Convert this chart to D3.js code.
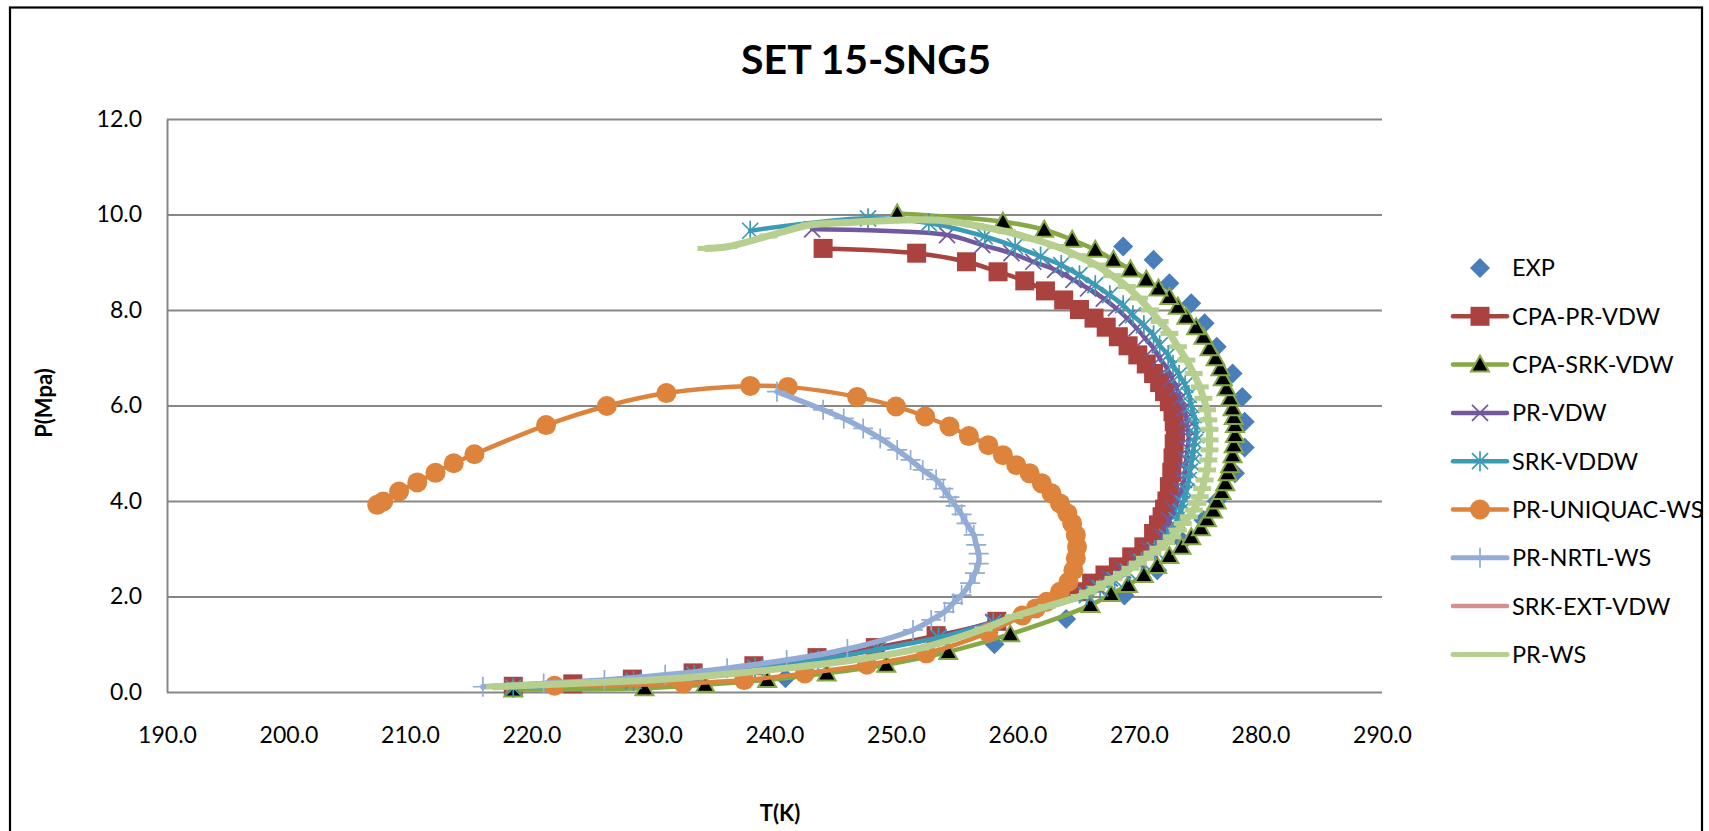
<!DOCTYPE html>
<html>
<head>
<meta charset="utf-8">
<script src="https://cdn.jsdelivr.net/npm/d3@7"></script>
<style>
  body { margin: 0; background: #fff; }
  svg text { font-family: Lato, "Open Sans", sans-serif; fill: #000; }
</style>
</head>
<body>
<div id="chart"></div>
<script>
// values, [T (K), P (MPa)]
var expData = [[240.9,0.29],[258.1,1.0],[264.0,1.53],[268.8,2.02],[271.5,2.55],[273.6,3.15],[275.3,3.6],[276.4,4.0],[277.9,4.58],[278.7,5.12],[278.7,5.66],[278.5,6.18],[277.7,6.67],[276.4,7.23],[275.4,7.72],[274.3,8.14],[272.5,8.56],[271.2,9.05],[268.7,9.33]];

var cpaPrVdw = [[218.5,0.12],[223.4,0.17],[228.3,0.27],[233.3,0.40],[238.3,0.55],[243.5,0.72],[248.3,0.93],[253.3,1.18],[258.3,1.48],[265.0,2.10],[266.1,2.28],[267.2,2.45],[268.3,2.62],[269.4,2.83],[270.4,3.04],[271.2,3.32],[271.6,3.5],[271.9,3.67],[272.1,3.83],[272.3,4.0],[272.5,4.3],[272.7,4.6],[272.8,4.9],[272.9,5.2],[273.0,5.45],[272.9,5.66],[272.8,5.87],[272.5,6.08],[272.1,6.29],[271.7,6.48],[271.2,6.67],[270.6,6.87],[269.9,7.06],[269.1,7.25],[268.3,7.44],[267.3,7.64],[266.3,7.83],[265.1,8.01],[263.8,8.21],[262.3,8.40],[260.6,8.61],[258.4,8.80],[255.8,9.01],[251.7,9.19],[244.0,9.29]];

var cpaSrkVdw = [[218.5,0.05],[229.3,0.08],[234.3,0.15],[239.4,0.25],[244.3,0.39],[249.2,0.57],[254.3,0.84],[259.4,1.21],[266.0,1.82],[267.7,2.05],[269.1,2.24],[270.4,2.45],[271.5,2.64],[272.5,2.85],[273.5,3.04],[274.3,3.24],[275.1,3.43],[275.6,3.62],[276.1,3.80],[276.4,3.99],[276.8,4.19],[277.1,4.37],[277.3,4.58],[277.5,4.75],[277.7,4.96],[277.8,5.17],[277.9,5.38],[277.9,5.59],[277.8,5.76],[277.7,5.94],[277.5,6.15],[277.2,6.36],[276.9,6.57],[276.7,6.78],[276.3,6.99],[275.8,7.20],[275.3,7.44],[274.7,7.64],[273.9,7.86],[273.2,8.07],[272.5,8.27],[271.6,8.45],[270.6,8.64],[269.3,8.85],[267.9,9.05],[266.4,9.26],[264.5,9.47],[262.2,9.68],[258.8,9.85],[250.1,10.02]];

var prVdw = [[218.5,0.10],[228.4,0.24],[233.4,0.37],[238.4,0.52],[243.6,0.68],[248.5,0.90],[253.5,1.15],[258.0,1.47],[265.4,2.07],[266.5,2.21],[267.6,2.38],[268.7,2.55],[269.8,2.76],[270.9,2.97],[271.9,3.25],[272.5,3.6],[272.9,3.8],[273.2,4.02],[273.5,4.22],[273.7,4.44],[273.8,4.65],[273.9,4.86],[274.0,5.1],[274.1,5.33],[274.0,5.52],[273.9,5.73],[273.7,5.94],[273.4,6.15],[273.1,6.36],[272.7,6.57],[272.3,6.78],[271.7,6.99],[271.2,7.20],[270.5,7.41],[269.8,7.62],[269.0,7.83],[268.1,8.04],[267.1,8.24],[265.8,8.45],[264.6,8.63],[263.1,8.84],[261.3,9.01],[259.5,9.19],[257.1,9.36],[254.2,9.57],[243.1,9.69]];

var srkVddw = [[218.5,0.09],[228.4,0.23],[233.4,0.36],[238.4,0.51],[243.6,0.67],[248.5,0.89],[253.5,1.14],[258.0,1.45],[265.7,2.03],[266.8,2.17],[268.0,2.35],[269.1,2.52],[270.2,2.73],[271.3,2.97],[272.3,3.25],[273.1,3.6],[273.4,3.78],[273.6,3.95],[273.9,4.2],[274.1,4.44],[274.2,4.62],[274.3,4.8],[274.4,4.95],[274.5,5.1],[274.6,5.24],[274.7,5.38],[274.7,5.59],[274.5,5.80],[274.3,6.01],[274.1,6.22],[273.8,6.43],[273.3,6.64],[272.8,6.85],[272.4,7.06],[271.7,7.26],[271.2,7.47],[270.4,7.68],[269.5,7.89],[268.7,8.10],[267.6,8.31],[266.4,8.52],[265.1,8.73],[263.6,8.94],[261.9,9.12],[259.8,9.33],[257.3,9.54],[252.7,9.82],[247.7,9.92],[238.0,9.66]];

var prUniquacWs = [[221.9,0.13],[232.5,0.18],[237.5,0.25],[242.5,0.39],[247.6,0.57],[252.5,0.81],[257.6,1.25],[260.4,1.60],[261.5,1.75],[262.4,1.89],[263.5,2.10],[264.2,2.31],[264.6,2.55],[264.8,2.80],[264.9,3.04],[264.8,3.29],[264.5,3.53],[264.1,3.74],[263.5,3.95],[262.8,4.16],[262.0,4.37],[261.0,4.58],[259.9,4.75],[258.8,4.96],[257.6,5.17],[256.0,5.36],[254.4,5.56],[252.4,5.77],[250.0,5.98],[246.8,6.18],[241.1,6.39],[238.0,6.41],[231.1,6.26],[226.2,5.99],[221.2,5.59],[215.3,4.98],[213.6,4.79],[212.1,4.59],[210.6,4.39],[209.1,4.20],[207.8,3.99],[207.3,3.92]];

var prNrtlWs = [[216.0,0.11],[221.0,0.18],[226.0,0.25],[231.0,0.36],[236.1,0.50],[241.0,0.67],[246.0,0.90],[251.4,1.30],[252.9,1.51],[254.0,1.68],[254.7,1.86],[255.4,2.03],[256.1,2.28],[256.5,2.49],[256.8,2.69],[256.8,2.90],[256.6,3.08],[256.4,3.29],[255.8,3.53],[255.4,3.72],[254.9,3.90],[254.4,4.08],[253.9,4.26],[253.3,4.45],[252.2,4.65],[251.2,4.86],[250.1,5.07],[248.7,5.31],[247.3,5.52],[245.7,5.73],[244.0,5.91],[240.2,6.29]];

var srkExtVdw = [[217.0,0.11],[230.0,0.25],[241.0,0.50],[252.0,0.92],[259.7,1.58],[265.1,2.0],[268.6,2.48],[271.6,3.01],[273.6,3.53],[275.0,4.09],[275.7,4.86],[275.8,5.5],[275.0,6.39],[272.5,7.51],[269.0,8.49],[263.2,9.33],[256.5,9.77],[250.1,9.88],[242.9,9.78],[239.5,9.55],[236.2,9.33],[234.4,9.29]];

var prWs = [[217.0,0.11],[227.3,0.22],[230.0,0.25],[235.5,0.36],[241.0,0.50],[246.5,0.67],[252.0,0.92],[257.2,1.32],[259.7,1.58],[262.4,1.79],[265.1,2.0],[265.8,2.09],[266.5,2.17],[267.2,2.28],[267.9,2.38],[268.6,2.48],[269.3,2.59],[269.9,2.70],[270.5,2.80],[271.1,2.91],[271.6,3.01],[272.2,3.13],[272.7,3.25],[273.2,3.39],[273.6,3.53],[274.1,3.67],[274.5,3.81],[274.8,3.95],[275.0,4.09],[275.2,4.26],[275.4,4.44],[275.6,4.65],[275.7,4.86],[275.8,5.07],[275.8,5.28],[275.8,5.5],[275.7,5.7],[275.6,5.91],[275.3,6.15],[275.0,6.39],[274.5,6.67],[273.9,6.95],[273.2,7.23],[272.5,7.51],[271.7,7.76],[270.9,8.0],[270.0,8.25],[269.0,8.49],[267.8,8.72],[266.5,8.94],[264.9,9.14],[263.2,9.33],[261.2,9.49],[259.1,9.64],[256.5,9.77],[253.6,9.88],[250.1,9.88],[246.5,9.84],[242.9,9.78],[239.5,9.55],[236.2,9.33],[234.4,9.29]];

var seriesNames = ["EXP","CPA-PR-VDW","CPA-SRK-VDW","PR-VDW","SRK-VDDW","PR-UNIQUAC-WS","PR-NRTL-WS","SRK-EXT-VDW","PR-WS"];
var xTicks = [190,200,210,220,230,240,250,260,270,280,290];
var yTicks = [0,2,4,6,8,10,12];

// how each series is drawn
var series = [
  {name: seriesNames[0], data: expData, color: "#4a7ebb", marker: "diamond", line: 0},
  {name: seriesNames[1], data: cpaPrVdw, color: "#aa4240", marker: "square", line: 4.5},
  {name: seriesNames[2], data: cpaSrkVdw, color: "#86a945", marker: "triangle", line: 4.5},
  {name: seriesNames[3], data: prVdw, color: "#71589f", marker: "x", line: 4.5},
  {name: seriesNames[4], data: srkVddw, color: "#3c9bb4", marker: "star", line: 4.5},
  {name: seriesNames[5], data: prUniquacWs, color: "#dd833b", marker: "circle", line: 4.5},
  {name: seriesNames[6], data: prNrtlWs, color: "#92acd6", marker: "plus", line: 5.5},
  {name: seriesNames[7], data: srkExtVdw, color: "#d4908e", marker: "none", line: 4.5},
  {name: seriesNames[8], data: prWs, color: "#b6cf8f", marker: "dash", line: 7}
];

var svgWidth = 1709;
var svgHeight = 831;
var plot = {left: 167, right: 1382, top: 119, bottom: 692};

var svg = d3.select("#chart")
    .append("svg")
    .attr("width", svgWidth)
    .attr("height", svgHeight);

svg.append("rect")
    .attr("x", 10).attr("y", 7.5)
    .attr("width", 1692).attr("height", 1000)
    .attr("fill", "#fff")
    .attr("stroke", "#000")
    .attr("stroke-width", 2.2);

var xScale = d3.scaleLinear().domain([190, 290]).range([plot.left, plot.right]);
var yScale = d3.scaleLinear().domain([0, 12]).range([plot.bottom, plot.top]);

// y axis + gridlines
var yAxis = svg.append("g")
    .attr("transform", `translate(${plot.left},0)`)
    .call(d3.axisLeft(yScale)
        .tickValues(yTicks)
        .tickFormat(d3.format(".1f"))
        .tickSize(-(plot.right - plot.left))
        .tickSizeOuter(0)
        .tickPadding(25));
yAxis.selectAll("line").attr("stroke", "#878787").attr("stroke-width", 2);
yAxis.select(".domain").attr("stroke", "#878787").attr("stroke-width", 2);
yAxis.selectAll("text").attr("font-size", "23px").style("font-family", "Lato");

var xAxis = svg.append("g")
    .attr("transform", `translate(0,${plot.bottom})`)
    .call(d3.axisBottom(xScale)
        .tickValues(xTicks)
        .tickFormat(d3.format(".1f"))
        .tickSize(0)
        .tickPadding(35));
xAxis.select(".domain").remove();
xAxis.selectAll("text").attr("font-size", "23px").style("font-family", "Lato");

function addMarker(sel, type, color) {
  if (type == "diamond") {
    sel.append("path").attr("d", "M0,-10L10,0L0,10L-10,0Z").attr("fill", color);
  } else if (type == "square") {
    sel.append("rect").attr("x", -9.5).attr("y", -9.5).attr("width", 19).attr("height", 19).attr("fill", color);
  } else if (type == "triangle") {
    sel.append("path").attr("d", "M0,-9L9,7L-9,7Z").attr("fill", "#000").attr("stroke", color).attr("stroke-width", 2);
  } else if (type == "x") {
    sel.append("path").attr("d", "M-8,-8L8,8M-8,8L8,-8").attr("stroke", color).attr("stroke-width", 1.7);
  } else if (type == "star") {
    sel.append("path").attr("d", "M-8,-8L8,8M-8,8L8,-8M0,-10L0,10").attr("stroke", color).attr("stroke-width", 1.7);
  } else if (type == "circle") {
    sel.append("circle").attr("r", 10).attr("fill", color);
  } else if (type == "plus") {
    sel.append("path").attr("d", "M-10,0L10,0M0,-10L0,10").attr("stroke", color).attr("stroke-width", 1.7);
  } else if (type == "dash") {
    sel.append("rect").attr("x", -9).attr("y", -2.5).attr("width", 18).attr("height", 5).attr("fill", color);
  }
}

var lineGen = d3.line()
    .x(d => xScale(d[0]))
    .y(d => yScale(d[1]))
    .curve(d3.curveCatmullRom.alpha(0.5));

series.forEach(function(s) {
  var g = svg.append("g");
  if (s.line > 0) {
    g.append("path")
      .datum(s.data)
      .attr("d", lineGen)
      .attr("fill", "none")
      .attr("stroke", s.color)
      .attr("stroke-width", s.line)
      .attr("stroke-linejoin", "round")
      .attr("stroke-linecap", "round");
  }
  if (s.marker != "none") {
    g.selectAll(".pt")
      .data(s.data)
      .enter()
      .append("g")
      .attr("transform", d => `translate(${xScale(d[0])},${yScale(d[1])})`)
      .each(function() { addMarker(d3.select(this), s.marker, s.color); });
  }
});

// legend
var legend = svg.append("g");
series.forEach(function(s, i) {
  var ly = 268 + i * 48.3;
  if (s.line > 0) {
    legend.append("line")
      .attr("x1", 1453).attr("x2", 1507)
      .attr("y1", ly).attr("y2", ly)
      .attr("stroke", s.color)
      .attr("stroke-width", Math.min(s.line, 5))
      .attr("stroke-linecap", "round");
  }
  var m = legend.append("g").attr("transform", `translate(1480,${ly})`);
  addMarker(m, s.marker, s.color);
  legend.append("text")
    .attr("x", 1512).attr("y", ly)
    .attr("dy", "0.36em")
    .attr("font-size", "23.5px")
    .text(s.name);
});

// titles
svg.append("text")
    .attr("x", 866).attr("y", 74)
    .attr("text-anchor", "middle")
    .attr("font-size", "41px")
    .attr("font-weight", "bold")
    .text("SET 15-SNG5");

svg.append("text")
    .attr("transform", "translate(52,403) rotate(-90)")
    .attr("text-anchor", "middle")
    .attr("font-size", "22px")
    .attr("font-weight", "bold")
    .text("P(Mpa)");

svg.append("text")
    .attr("x", 780).attr("y", 821)
    .attr("text-anchor", "middle")
    .attr("font-size", "22px")
    .attr("font-weight", "bold")
    .text("T(K)");
</script>
</body>
</html>
